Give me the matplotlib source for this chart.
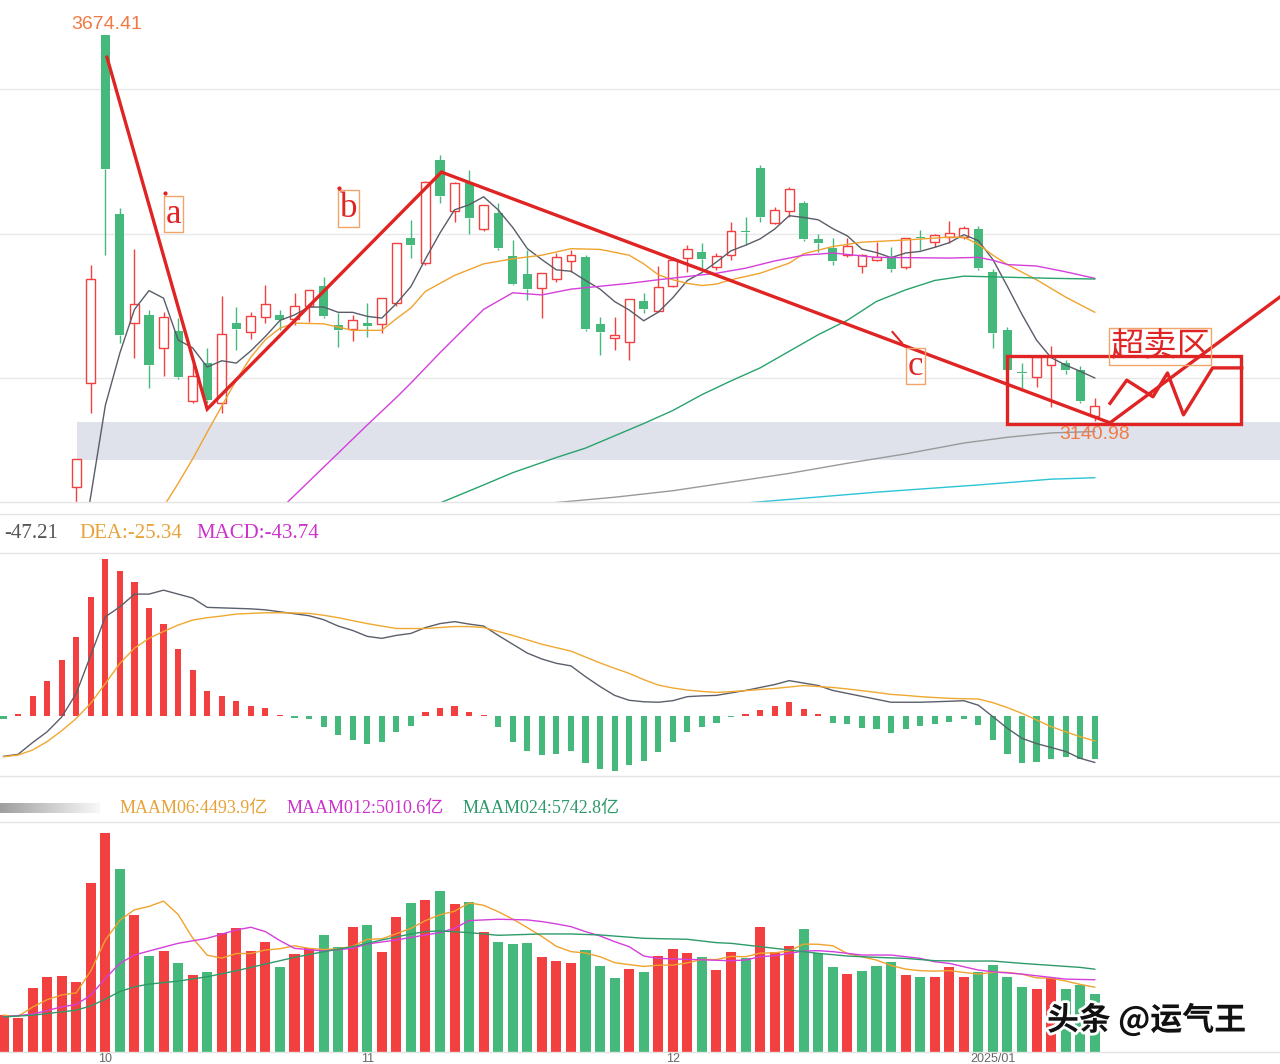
import numpy as np
import pandas as pd
import matplotlib
matplotlib.use("Agg")
import matplotlib.pyplot as plt
import matplotlib.patheffects as pe

plt.rcParams['font.family'] = ['Liberation Serif', 'Noto Sans CJK SC', 'DejaVu Sans']

# SSE composite, daily bars 2024-09-20 .. 2025-01-13
opens = [2733, 2739, 2770, 2901, 2893, 3049, 3193, 3674.41, 3427, 3276, 3287, 3241, 3265, 3168, 3221, 3166,
         3276, 3264, 3284, 3287, 3282, 3300, 3327, 3273, 3268, 3276, 3275, 3304, 3394, 3359, 3502, 3431,
         3470, 3406, 3428, 3369, 3344, 3325, 3337, 3362, 3367, 3275, 3256, 3250, 3307, 3293, 3327, 3366,
         3374, 3353, 3370, 3404, 3491, 3415, 3431, 3442, 3392, 3380, 3370, 3355, 3363, 3366, 3353, 3395,
         3388, 3395, 3395, 3406, 3347, 3266, 3208, 3202, 3218, 3221, 3211, 3147]
highs = [2745, 2761, 2863, 2952, 3001, 3087.6, 3356, 3674.41, 3435, 3378, 3294, 3291, 3283, 3221, 3241, 3314,
         3298, 3291, 3329, 3294, 3318, 3322, 3340, 3290, 3287, 3304, 3310, 3387, 3419, 3472, 3509, 3471,
         3488, 3440, 3442, 3391, 3377, 3346, 3373, 3377, 3370, 3284, 3284, 3310, 3317, 3355, 3367, 3384,
         3387, 3373, 3416, 3423, 3495, 3437, 3464, 3445, 3400, 3394, 3394, 3371, 3388, 3381, 3394, 3405,
         3399, 3417, 3410, 3411, 3351, 3270, 3221, 3230, 3244, 3225, 3217, 3172]
lows = [2725, 2733, 2761, 2889, 2880, 3020, 3152, 3370, 3248, 3228, 3186, 3203, 3198, 3166, 3165, 3152,
        3239, 3254, 3276, 3266, 3273, 3278, 3283, 3243, 3251, 3257, 3262, 3300, 3366, 3357, 3442, 3416,
        3400, 3403, 3377, 3329, 3308, 3283, 3333, 3347, 3265, 3232, 3239, 3225, 3290, 3292, 3326, 3347,
        3352, 3350, 3363, 3384, 3416, 3413, 3423, 3389, 3375, 3356, 3368, 3345, 3362, 3347, 3351, 3377,
        3381, 3387, 3393, 3350, 3242, 3205, 3186, 3188, 3160, 3205, 3166, 3140.98]
closes = [2736.81, 2748.92, 2863.13, 2896.31, 3000.95, 3087.53, 3336.50, 3489.78, 3258.86, 3301.93, 3217.74,
          3284.32, 3201.29, 3202.95, 3169.38, 3261.56, 3268.11, 3285.87, 3302.80, 3280.26, 3299.70, 3322.20,
          3286.41, 3266.24, 3279.82, 3272.01, 3310.21, 3386.99, 3383.81, 3470.66, 3452.30, 3470.07, 3421.97,
          3439.28, 3379.84, 3330.73, 3323.85, 3346.01, 3367.99, 3370.40, 3267.19, 3263.76, 3259.76, 3309.78,
          3295.70, 3326.46, 3363.98, 3378.81, 3364.65, 3368.86, 3404.08, 3402.53, 3422.66, 3432.49, 3461.50,
          3391.88, 3386.33, 3361.49, 3382.21, 3370.03, 3368.07, 3351.26, 3393.53, 3393.35, 3398.08, 3400.14,
          3407.33, 3351.76, 3262.56, 3211.43, 3206.92, 3229.64, 3230.17, 3211.39, 3168.52, 3160.76]
prev_close = 2736.02
# turnover, 亿
volumes = [2551, 2389, 4406, 5171, 5264, 4824, 11711, 15189, 12685, 9508, 6656, 7027, 6192, 5334, 5566, 8279,
           8580, 7027, 7653, 5867, 6795, 7189, 8117, 7305, 8696, 8812, 6957, 9346, 10320, 10551, 11131, 10250,
           10436, 8348, 7653, 7490, 7583, 6563, 6331, 6145, 7073, 5960, 5102, 5751, 5566, 6656, 7143, 6841,
           6563, 5682, 6911, 6493, 8650, 6957, 7374, 8511, 6841, 5867, 5403, 5635, 5983, 6261, 5334, 5218,
           5218, 5867, 5218, 5566, 6029, 5218, 4476, 4337, 5102, 4360, 4638, 4050.4]
date_ticks = [7, 25, 46, 68]
date_labels = ['10', '11', '12', '2025/01']

# moving-average lines (bar index, value)
ma10_x = [11, 12, 13, 14, 15, 16, 17, 18, 19, 20, 22, 24, 26, 27, 28, 29, 31, 33, 35, 37, 39, 41, 43, 44, 45,
          46, 47, 48, 49, 50, 52, 54, 55, 57, 59, 62, 65, 66, 67, 68, 69, 71, 73, 75]
ma10_y = [3022, 3054, 3088, 3125, 3161, 3197, 3229, 3253, 3269, 3276, 3275, 3266, 3266, 3282, 3297, 3320, 3342,
          3358, 3365, 3370, 3379, 3378, 3370, 3358, 3343, 3336, 3331, 3328, 3330, 3336, 3345, 3359, 3372, 3382,
          3388, 3391, 3395, 3395, 3385, 3370, 3357, 3336, 3312, 3291]
ma30_x = [19, 21, 23, 25, 27, 28, 30, 32, 33, 35, 37, 39, 43, 45, 49, 51, 53, 55, 57, 60, 65, 67, 68, 69, 71,
          73, 75]
ma30_y = [3018, 3057, 3096, 3135, 3173, 3193, 3235, 3275, 3295, 3318, 3315, 3323, 3331, 3336, 3345, 3352, 3362,
          3370, 3373, 3367, 3366, 3367, 3363, 3357, 3355, 3347, 3338]
ma60_x = [30, 33, 35, 38, 40, 42, 44, 46, 48, 50, 52, 54, 56, 58, 60, 62, 64, 66, 68, 72, 75]
ma60_y = [3027, 3052, 3069, 3090, 3103, 3120, 3137, 3155, 3177, 3196, 3214, 3237, 3260, 3280, 3306, 3322, 3335,
          3341, 3340, 3338, 3337]
ma120_x = [36, 42, 46, 51, 54, 58, 62, 66, 69, 72, 75]
ma120_y = [3024, 3035, 3044, 3059, 3068, 3082, 3095, 3110, 3118, 3124, 3126]
ma250_x = [51, 54, 60, 67, 72, 75]
ma250_y = [3027, 3032, 3042, 3052, 3060, 3062]

dif = [-41, -39, -27, -16, -1, 23, 62, 101, 111, 124, 124, 128, 124, 120, 110.5, 110, 109.5, 109, 108, 106,
       104, 102, 98, 91.5, 87, 81, 79, 82, 84, 90, 94, 96, 93.5, 91.5, 82, 73, 64, 58, 53.6, 51, 40, 30, 21,
       16, 14.5, 14, 15.6, 19.7, 20.5, 21, 23.5, 26, 29, 32, 36, 33.5, 31, 26, 23, 20, 17, 14, 14, 14, 14.5,
       15, 15.6, 11, -0.7, -12.5, -22.7, -28, -32, -36, -43, -47.21]
dea = [-41.4, -39.7, -34.6, -26, -15, -2.4, 13, 33, 53.6, 69, 79, 86, 92.5, 97.6, 100, 101.7, 103.7, 104.4,
       105, 105, 104.8, 104.4, 102.5, 100, 97, 94, 91.5, 89, 89, 89, 90, 91, 91, 90, 86, 82, 77.5, 73, 69.5,
       66, 60, 54, 48.5, 43.4, 37, 31.5, 28.5, 26.4, 25, 24, 24.8, 25.8, 27, 28, 29.5, 31, 30, 29, 27.5, 25.8,
       24, 22, 21, 19.7, 18.8, 18, 17.6, 17.3, 13.6, 8.5, 2.7, -4, -10.8, -16, -21, -25.34]
macd = [-3, 2, 20.7, 36, 57, 80, 121, 160, 147, 136, 110, 94, 68, 47, 25, 20, 15, 10.5, 8, 1.5, -2.5, -3.5,
        -11.5, -19.3, -24.4, -28.5, -26, -16, -10, 3.7, 7.8, 10.5, 3.7, 1, -11.5, -26, -36, -40, -39, -36,
        -47.5, -54, -56, -50, -45.5, -36.6, -26, -16, -11.5, -7.5, -1, 2, 6, 10, 14, 7, 1.7, -6.8, -8.5, -12,
        -13.5, -17, -13, -10, -7.8, -6, -3.4, -9.5, -24.4, -39, -47.5, -46.5, -44, -42, -44, -43.74]

maam12_x = [0, 2, 4, 5, 6, 7, 8, 9, 10, 12, 14, 16, 17, 18, 19, 20, 22, 24, 25, 27, 29, 30, 31, 32, 34, 36,
            37, 38, 39, 40, 41, 42, 43, 44, 45, 47, 50, 51, 52, 53, 54, 55, 56, 57, 59, 61, 62, 63, 64, 65,
            66, 67, 68, 70, 72, 73, 75]
maam12_y = [2435, 2620, 3131, 3293, 3942, 5102, 6145, 6725, 7003, 7537, 7885, 8464, 8650, 8348, 7722, 7189,
            7003, 7189, 7490, 7769, 8117, 8279, 8580, 9114, 9206, 9160, 9044, 8882, 8696, 8348, 8047, 7653,
            7305, 6656, 6493, 6424, 6331, 6377, 6609, 6679, 6841, 7003, 7027, 6957, 6725, 6725, 6609, 6493,
            6261, 6145, 5913, 5682, 5566, 5403, 5171, 5055, 5010.6]
maam24_x = [0, 2, 4, 5, 6, 7, 8, 9, 10, 12, 14, 16, 18, 20, 22, 24, 26, 28, 29, 30, 32, 34, 37, 39, 41, 44,
            47, 49, 50, 52, 54, 56, 58, 60, 62, 64, 66, 68, 70, 72, 74, 75]
maam24_y = [2435, 2551, 2783, 2899, 3200, 3664, 4197, 4522, 4708, 4916, 5218, 5635, 6099, 6563, 6957, 7305,
            7769, 8186, 8348, 8395, 8279, 8093, 8186, 8186, 8117, 7885, 7815, 7583, 7537, 7305, 7073, 6841,
            6656, 6563, 6493, 6331, 6308, 6308, 6145, 6006, 5867, 5742.8]

# hand-drawn annotations (bar index, price)
gap_start, gap_lo, gap_hi = 5.05, 3086.5, 3139
wave_x = [7.11, 14.0, 30.1, 76.05, 90]
wave_y = [3644, 3157, 3485, 3138, 3346]
zig_x = [76.05, 77.2, 79.0, 80.0, 81.1, 83.1, 85.1]
zig_y = [3165, 3197, 3174, 3207, 3149, 3214, 3214]
zone = (69.0, 85.05, 3136.3, 3230.4)

W, H = 1280, 1064
STEP, X0 = 14.55, 3.5
RED = '#f23f3f'
GREEN = '#45b87b'
ANN = '#e02424'
XL = (-X0 / STEP, (W - X0) / STEP)


def band(top, bottom):
    return [0, 1 - bottom / H, 1, (bottom - top) / H]


def fy(y):
    return 1 - y / H


fig = plt.figure(figsize=(W / 100, H / 100), dpi=100)
fig.patch.set_facecolor('white')

x = np.arange(len(closes))
o, h, l, c = map(np.array, (opens, highs, lows, closes))
up = c >= o
top = np.maximum(o, c)
bot = np.minimum(o, c)
body = np.maximum(top - bot, 1.4)
ccol = np.where(up, RED, GREEN)

# ---- price pane
axp = fig.add_axes(band(0, 502))
axp.set_xlim(XL)
axp.set_ylim(3028.4, 3723.2)
axp.axis('off')
for g in [3200, 3400, 3600]:
    axp.axhline(g, color='#e8e8e8', lw=1, zorder=0)
axp.fill_between([gap_start, XL[1] + 1], gap_lo, gap_hi, color='#dfe2eb', lw=0, zorder=0.5)

axp.vlines(x, top, h, color=ccol, lw=1, zorder=2)
axp.vlines(x, l, bot, color=ccol, lw=1, zorder=2)
axp.bar(x[up], body[up], bottom=bot[up], width=0.6, facecolor='white', edgecolor=RED, linewidth=1, zorder=3)
axp.bar(x[~up], body[~up], bottom=bot[~up], width=0.62, color=GREEN, linewidth=0, zorder=3)

ma5 = pd.Series(closes).rolling(5).mean()
axp.plot(x, ma5, color='#585d68', lw=1, zorder=4)
axp.plot(ma10_x, ma10_y, color='#f0a32e', lw=1, zorder=4)
axp.plot(ma30_x, ma30_y, color='#d43fdc', lw=1, zorder=4)
axp.plot(ma60_x, ma60_y, color='#27a36b', lw=1, zorder=4)
axp.plot(ma120_x, ma120_y, color='#9a9a9a', lw=1, zorder=4)
axp.plot(ma250_x, ma250_y, color='#2cc4d8', lw=1, zorder=4)

i_hi = int(np.argmax(h))
axp.text(i_hi + 0.11, 3689, f'{highs[i_hi]:.2f}', color='#f07a45', fontsize=14, family='Liberation Sans',
         ha='center', va='center', zorder=7)
axp.text(len(lows) - 1, 3122.5, f'{lows[-1]:.2f}', color='#f07a45', fontsize=14, family='Liberation Sans',
         ha='center', va='center', zorder=7)

axp.plot(wave_x, wave_y, color=ANN, lw=2.4, zorder=6, solid_joinstyle='miter')
axp.plot(zig_x, zig_y, color=ANN, lw=2.4, zorder=6)
axp.add_patch(plt.Rectangle((zone[0], zone[2]), zone[1] - zone[0], zone[3] - zone[2], fill=False,
                            edgecolor=ANN, lw=2.4, zorder=6))
lbox = dict(boxstyle='square,pad=0.05', facecolor='none', edgecolor='#f2a46a', lw=1)
for lx, ly, s in [(11.68, 3427, 'a'), (23.7, 3434.6, 'b'), (62.7, 3216.6, 'c')]:
    axp.text(lx, ly, s, color=ANN, fontsize=25, family='Liberation Serif', ha='center', va='center',
             bbox=lbox, zorder=7)
axp.plot([11.1, 23.06], [3456, 3463], ls='none', marker='o', ms=2, color=ANN, zorder=7)
axp.plot([61.1, 61.75], [3263.7, 3248.5], color=ANN, lw=1.5, zorder=7)
axp.text(79.5, 3244, '超卖区', color=ANN, fontsize=24, family='Noto Sans CJK SC', ha='center', va='center',
         bbox=dict(boxstyle='square,pad=0.03', facecolor='none', edgecolor='#f2a46a', lw=1), zorder=7)

# ---- separators
for yy in [502, 514, 553, 776, 822, 1052]:
    fig.add_artist(plt.Line2D([0, 1], [fy(yy), fy(yy)], color='#e4e4e4', lw=1))

# ---- MACD pane
axm = fig.add_axes(band(553, 776))
axm.set_xlim(XL)
axm.set_ylim(-61, 165.8)
axm.axis('off')
mv = np.array(macd)
axm.bar(x, mv, width=0.42, color=np.where(mv >= 0, RED, GREEN), linewidth=0)
axm.plot(x, dif, color='#5a5f6b', lw=1)
axm.plot(x, dea, color='#f0a830', lw=1)

fig.text(4 / W, fy(534), f'{dif[-1]:.2f}', color='#555555', fontsize=15, va='center')
fig.text(79 / W, fy(534), f'DEA:{dea[-1]:.2f}', color='#e8a23a', fontsize=15, va='center')
fig.text(196 / W, fy(534), f'MACD:{macd[-1]:.2f}', color='#cc33cc', fontsize=15, va='center')

# ---- volume pane
axv = fig.add_axes(band(822, 1052))
axv.set_xlim(XL)
axv.set_ylim(0, 15950)
for s in axv.spines.values():
    s.set_visible(False)
axv.set_yticks([])
vchg = np.diff(np.r_[prev_close, closes])
axv.bar(x, volumes, width=0.69, color=np.where(vchg >= 0, RED, GREEN), linewidth=0)
maam06 = pd.Series(volumes).rolling(6, min_periods=1).mean()
axv.plot(x, maam06, color='#f0a32e', lw=1)
axv.plot(maam12_x, maam12_y, color='#d43fdc', lw=1)
axv.plot(maam24_x, maam24_y, color='#2e9a6a', lw=1)
axv.set_xticks(date_ticks)
axv.set_xticklabels(date_labels, family='Liberation Sans', fontsize=9, color='#666666')
axv.tick_params(axis='x', length=0, pad=0.5)

grad = fig.add_axes([0, fy(813), 100 / W, 10 / H])
grad.imshow(np.linspace(0.62, 0.97, 100)[None, :], cmap='gray', vmin=0, vmax=1, aspect='auto',
            interpolation='bicubic')
grad.axis('off')
fig.text(120 / W, fy(808), f'MAAM06:{maam06.iloc[-1]:.1f}亿', color='#e8a23a', fontsize=13, va='center')
fig.text(287 / W, fy(808), f'MAAM012:{maam12_y[-1]:.1f}亿', color='#cc33cc', fontsize=13, va='center')
fig.text(463 / W, fy(808), f'MAAM024:{maam24_y[-1]:.1f}亿', color='#2e9a6a', fontsize=13, va='center')

fig.text(1047 / W, fy(1020), '头条 @运气王', family='Noto Sans CJK SC', fontweight='bold', fontsize=23,
         color='#111111', va='center',
         path_effects=[pe.withStroke(linewidth=4, foreground='white')])

fig.savefig('out.png', dpi=100)
